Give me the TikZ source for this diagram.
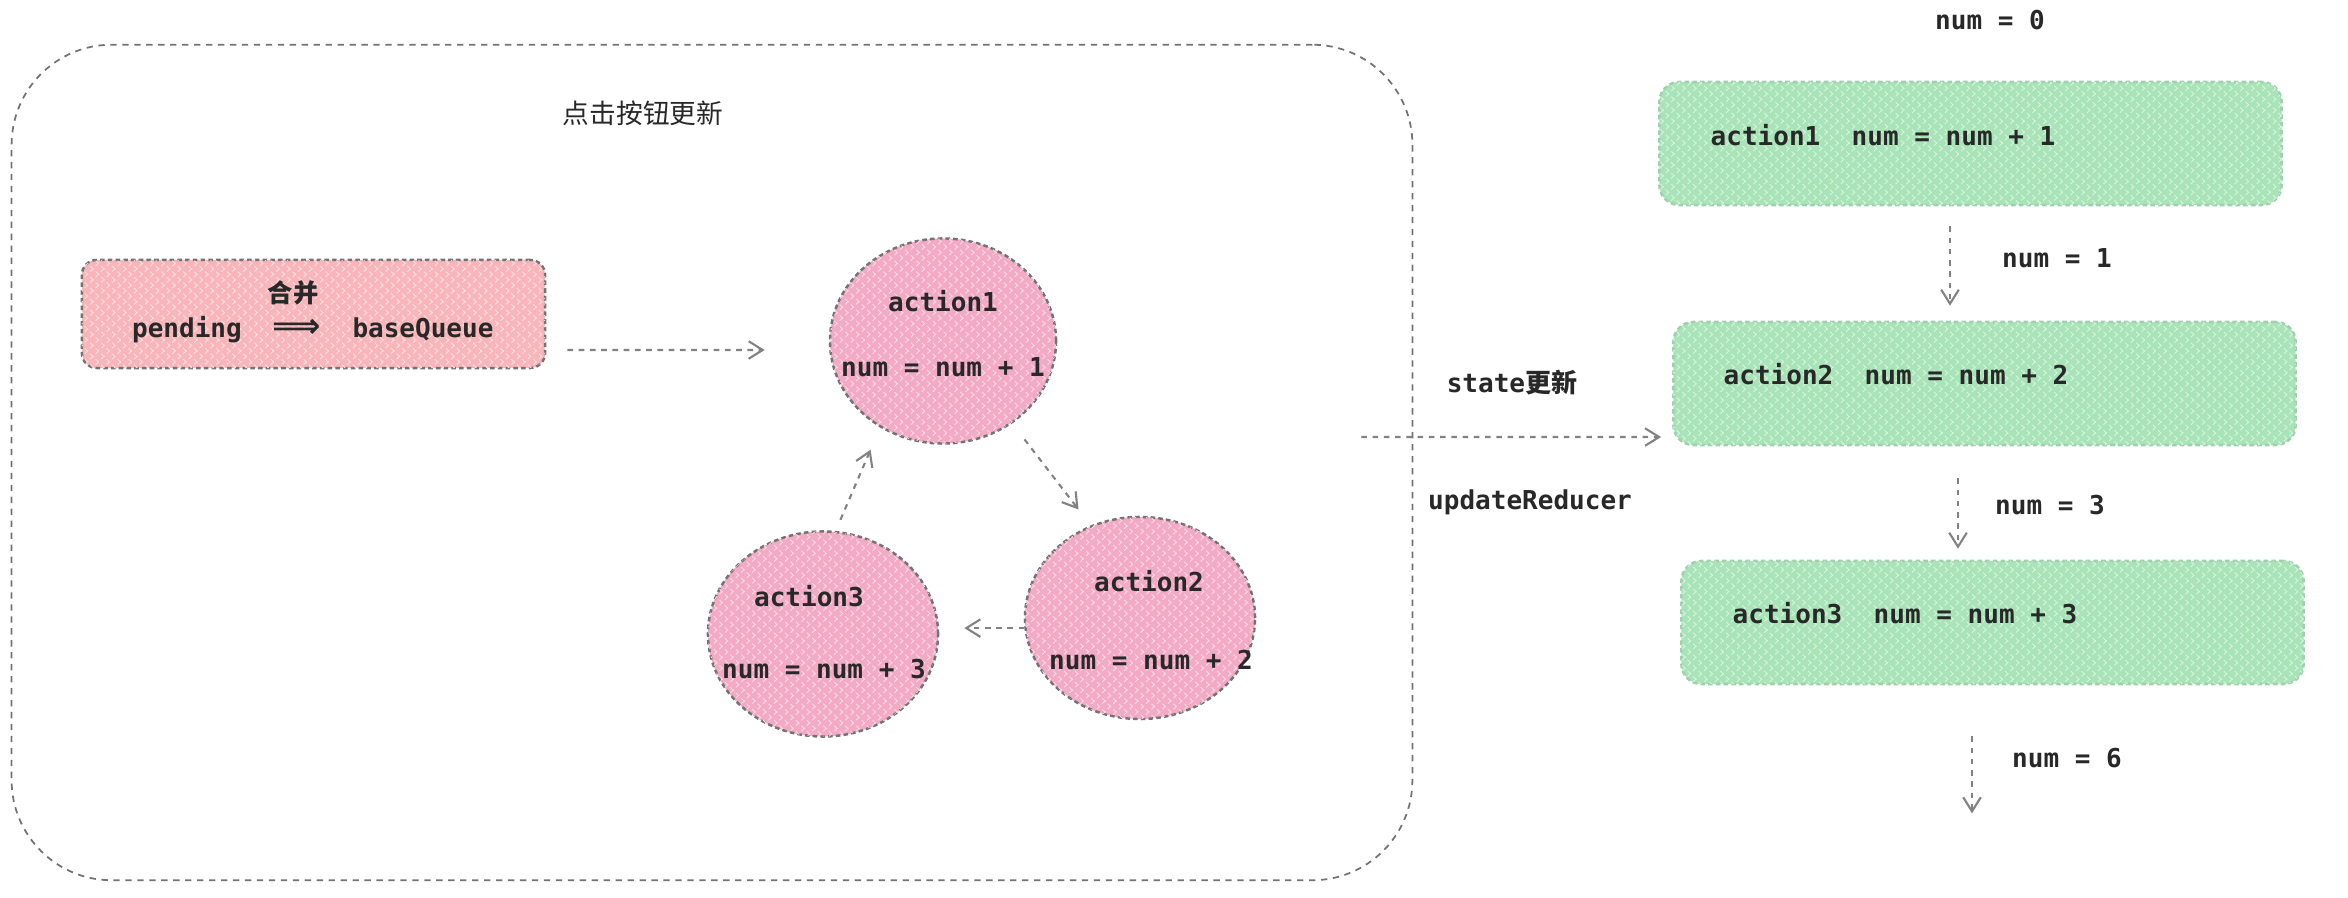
\documentclass[tikz,border=0pt]{standalone}
\usepackage{fontspec}
\setmonofont{DejaVu Sans Mono}
\newfontfamily\cjk{Noto Sans CJK SC}
\newfontfamily\djs{DejaVu Sans}
\usetikzlibrary{arrows.meta,shapes.geometric,patterns.meta}
\definecolor{pinkbox}{RGB}{248,182,187}
\definecolor{pinkcirc}{RGB}{243,170,196}
\definecolor{greenbox}{RGB}{168,228,184}
\definecolor{edgegray}{RGB}{115,115,115}
\definecolor{txt}{RGB}{40,40,40}
\definecolor{arrowgray}{RGB}{130,130,130}
\begin{document}
\begin{tikzpicture}[x=0.01cm,y=-0.01cm,
  mono/.style={font={\fontsize{7.4}{9}\selectfont\ttfamily\bfseries}, text=txt, inner sep=0pt, text height=0.75em, text depth=0.2em},
  cjkt/.style={font={\fontsize{7.6}{9}\selectfont\cjk}, text=txt, inner sep=0pt},
  hatch/.style={postaction={pattern={Lines[angle=45,distance=2.2pt,line width=0.25pt]}, pattern color=white!55!#1},
                postaction={pattern={Lines[angle=-45,distance=2.2pt,line width=0.25pt]}, pattern color=white!55!#1}},
  bigbox/.style={draw=edgegray, dash pattern=on 1.8pt off 1.6pt, line width=0.5pt, rounded corners=1cm, minimum width=14cm, minimum height=8.35cm, inner sep=0pt},
  pinkrect/.style={draw=edgegray, fill=pinkbox, hatch=pinkbox, dash pattern=on 1.3pt off 0.9pt, line width=0.7pt, rounded corners=0.15cm, minimum width=4.63cm, minimum height=1.08cm, inner sep=0pt},
  circ/.style={ellipse, draw=edgegray, fill=pinkcirc, hatch=pinkcirc, dash pattern=on 1.3pt off 0.9pt, line width=0.7pt, minimum width=2.26cm, minimum height=2.05cm, inner sep=0pt},
  greenrect/.style={draw=greenbox!80!gray, fill=greenbox, hatch=greenbox, dash pattern=on 1.3pt off 0.9pt, line width=0.7pt, rounded corners=0.2cm, minimum width=6.22cm, minimum height=1.23cm, inner sep=0pt},
  arr/.style={draw=arrowgray, line width=0.6pt, dash pattern=on 1.6pt off 1.6pt, -{Straight Barb[length=4pt,width=5pt]}}
]
\useasboundingbox (0,0) rectangle (2348,898);

% big dashed frame
\node[bigbox] (big) at (712,462.5) {};
\node[cjkt] (title) at (643,113) {点击按钮更新};

% pink box
\node[pinkrect] (pink) at (313.5,314) {};
\node[cjkt, font={\fontsize{7.2}{9}\selectfont\cjk\bfseries}] (hb) at (293,293) {合并};
\node[mono, font={\fontsize{9.6}{9}\selectfont\djs\bfseries}] (dbl) at (297,328) {⟹};
\node[mono] (pend) at (187,328) {pending};
\node[mono] (bq) at (423,328) {baseQueue};

% circles
\node[circ] (a1) at (943,341) {};
\node[mono] (a1a) at ([yshift=0.39cm]a1.center) {action1};
\node[mono] (a1b) at ([yshift=-0.26cm]a1.center) {num = num + 1};
\node[circ, minimum width=2.3cm, minimum height=2.02cm] (a2) at (1140,618) {};
\node[mono] (a2a) at ([xshift=0.09cm,yshift=0.36cm]a2.center) {action2};
\node[mono] (a2b) at ([xshift=0.11cm,yshift=-0.42cm]a2.center) {num = num + 2};
\node[circ, minimum width=2.3cm, minimum height=2.05cm] (a3) at (823,634) {};
\node[mono] (a3a) at ([xshift=-0.14cm,yshift=0.37cm]a3.center) {action3};
\node[mono] (a3b) at ([xshift=0.01cm,yshift=-0.35cm]a3.center) {num = num + 3};

% arrows in left frame
\coordinate (ps) at ([xshift=0.21cm,yshift=-0.36cm]pink.east);
\coordinate (pe) at ([xshift=-0.64cm,yshift=-0.09cm]a1.west);
\draw[arr] (ps) -- (pe);
\draw[arr, shorten <=0.2cm, shorten >=0.2cm] (a1.-50) -- (a2.118);
\draw[arr, shorten >=0.25cm] (a2.185) -- (a2.185 -| a3.east);
\draw[arr, shorten <=0.12cm, shorten >=0.24cm] (a3.83) -- (a1.234);

% green boxes
\node[greenrect] (g1) at (1970.5,143.5) {};
\node[greenrect] (g2) at (1984.5,383.5) {};
\node[greenrect] (g3) at (1992.5,622.5) {};
\node[mono, anchor=west] (g1t) at (1710,136) {action1\ \ num = num + 1};
\node[mono, anchor=west] (g2t) at (1723,375) {action2\ \ num = num + 2};
\node[mono, anchor=west] (g3t) at (1732,614) {action3\ \ num = num + 3};

% big horizontal arrow
\coordinate (hs) at ([xshift=-0.52cm,yshift=0.255cm]big.east);
\coordinate (he) at ([xshift=-0.11cm,yshift=-0.535cm]g2.west);
\draw[arr] (hs) -- (he);
\node[mono] (st) at (1512,383) {state{\cjk\bfseries 更新}};
\node[mono] (ur) at (1530,500) {updateReducer};

% vertical arrows and values
\node[mono] (n0) at (1990,20) {num = 0};
\draw[arr, shorten <=0.2cm, shorten >=0.15cm] ([xshift=-0.205cm]g1.south) -- ([xshift=-0.205cm]g1.south |- g2.north);
\node[mono] (n1) at (2057,258) {num = 1};
\draw[arr, shorten <=0.32cm, shorten >=0.11cm] ([xshift=-0.265cm]g2.south) -- ([xshift=-0.265cm]g2.south |- g3.north);
\node[mono] (n3) at (2050,505) {num = 3};
\coordinate (fin) at ([xshift=-0.205cm,yshift=-1.28cm]g3.south);
\draw[arr, shorten <=0.51cm] ([xshift=-0.205cm]g3.south) -- (fin);
\node[mono] (n6) at (2067,758) {num = 6};
\end{tikzpicture}
\end{document}
